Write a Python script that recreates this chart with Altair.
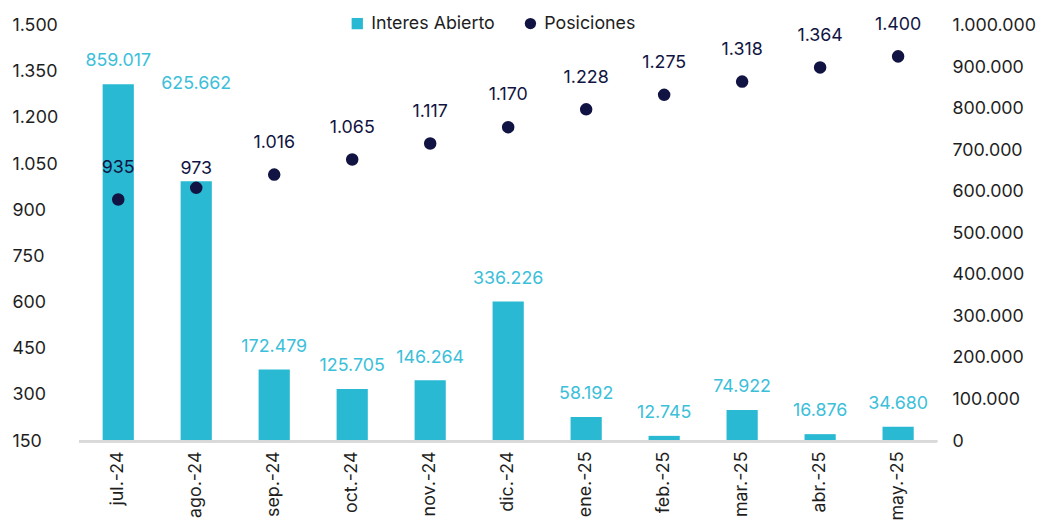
import altair as alt
import pandas as pd

months = ["jul.-24", "ago.-24", "sep.-24", "oct.-24", "nov.-24", "dic.-24",
          "ene.-25", "feb.-25", "mar.-25", "abr.-25", "may.-25"]
interes = [859017, 625662, 172479, 125705, 146264, 336226, 58192, 12745, 74922, 16876, 34680]
posiciones = [935, 973, 1016, 1065, 1117, 1170, 1228, 1275, 1318, 1364, 1400]
series = ["Interes Abierto", "Posiciones"]


def fmt(v):
    return f"{v:,}".replace(",", ".")


df = pd.DataFrame({
    "mes": months,
    "interes": interes,
    "posiciones": posiciones,
    "interes_lbl": [fmt(v) for v in interes],
    "pos_lbl": [fmt(v) for v in posiciones],
})

FONT = "Inter"
FS = 18
CYAN = "#29b9d3"
NAVY = "#111442"
TXT = "#1e1e1e"

x = alt.X("mes:N", sort=months, title=None,
          scale=alt.Scale(paddingInner=0.6, paddingOuter=0.3),
          axis=alt.Axis(labelAngle=-90, labelFontSize=FS, labelColor=TXT,
                        labelFont=FONT, ticks=False, domain=False,
                        labelPadding=10, labelBaseline="middle",
                        labelAlign="right"))

base = alt.Chart(df)

yL = alt.Y("posiciones:Q", title=None,
           scale=alt.Scale(domain=[150, 1500], nice=False, zero=False),
           axis=alt.Axis(orient="left", values=list(range(150, 1501, 150)),
                         labelExpr="replace(format(datum.value, ','), /,/g, '.')",
                         grid=False, domain=False, ticks=False,
                         labelFontSize=FS, labelFont=FONT, labelColor=TXT,
                         labelAlign="left", labelPadding=68))

axisR = alt.Axis(orient="right", values=list(range(0, 1000001, 100000)),
                 labelExpr="replace(format(datum.value, ','), /,/g, '.')",
                 grid=False, domain=False, ticks=False,
                 labelFontSize=FS, labelFont=FONT, labelColor=TXT,
                 labelAlign="left", labelPadding=15)
scaleR = alt.Scale(domain=[0, 1000000], nice=False)
yR = alt.Y("interes:Q", title=None, scale=scaleR, axis=axisR)

bars = base.mark_bar(color=CYAN).encode(x=x, y=yR)
baseline = base.mark_rule(color="#d9d9d9", strokeWidth=2).encode(
    y=alt.Y(datum=0, title=None, scale=scaleR, axis=axisR)
)
bar_lbl = base.mark_text(font=FONT, fontSize=FS, color="#3cc0d9", baseline="middle", dy=-23).encode(
    x=x, y=yR, text="interes_lbl:N"
).transform_filter(alt.datum.mes != "ago.-24")
bar_lbl2 = base.mark_text(font=FONT, fontSize=FS, color="#3cc0d9", baseline="middle", dy=-98).encode(
    x=x, y=yR, text="interes_lbl:N"
).transform_filter(alt.datum.mes == "ago.-24")

right_group = alt.layer(bars, baseline, bar_lbl, bar_lbl2)

points = base.mark_point(filled=True, size=160, opacity=1, color=NAVY).encode(x=x, y=yL)
pt_lbl = base.mark_text(font=FONT, fontSize=FS, color=NAVY, baseline="middle", dy=-32).encode(
    x=x, y=yL, text="pos_lbl:N"
).transform_filter(alt.datum.mes != "ago.-24")
pt_lbl2 = base.mark_text(font=FONT, fontSize=FS, color=NAVY, baseline="middle", dy=-19).encode(
    x=x, y=yL, text="pos_lbl:N"
).transform_filter(alt.datum.mes == "ago.-24")

left_group = alt.layer(points, pt_lbl, pt_lbl2)

# legend built from the series names
leg_df = pd.DataFrame({"name": series})
leg_kw = dict(title=None, orient="none", legendX=272, legendY=-11,
              direction="horizontal", labelFont=FONT, labelFontSize=FS,
              labelColor=TXT, symbolSize=130, columnPadding=26,
              labelOffset=5, symbolOpacity=1, symbolStrokeWidth=0)
legend_chart = alt.Chart(leg_df).mark_point(filled=True, opacity=1).encode(
    color=alt.Color("name:N", scale=alt.Scale(domain=series, range=[CYAN, NAVY]),
                    legend=alt.Legend(**leg_kw)),
    shape=alt.Shape("name:N", scale=alt.Scale(domain=series, range=["square", "circle"]),
                    legend=alt.Legend(**leg_kw)),
).transform_filter("false")

chart = alt.layer(right_group, left_group, legend_chart).resolve_scale(
    y="independent"
).properties(
    width=867, height=420,
    background="white",
    padding={"left": 4, "top": 4, "right": 5, "bottom": 5},
).configure_view(stroke="transparent", strokeWidth=0).configure_axis(
    domain=False, grid=False
)

chart.save("out.html", embed_options={"renderer": "svg", "actions": False})
